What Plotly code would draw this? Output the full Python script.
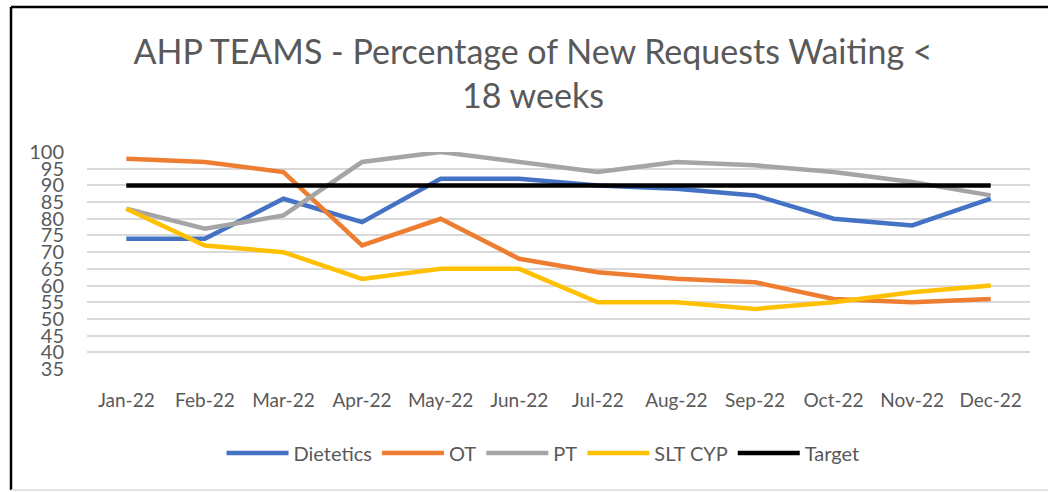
import plotly.graph_objects as go

months = ["Jan-22", "Feb-22", "Mar-22", "Apr-22", "May-22", "Jun-22",
          "Jul-22", "Aug-22", "Sep-22", "Oct-22", "Nov-22", "Dec-22"]
dietetics = [74, 74, 86, 79, 92, 92, 90, 89, 87, 80, 78, 86]
ot = [98, 97, 94, 72, 80, 68, 64, 62, 61, 56, 55, 56]
pt = [83, 77, 81, 97, 100, 97, 94, 97, 96, 94, 91, 87]
slt_cyp = [83, 72, 70, 62, 65, 65, 55, 55, 53, 55, 58, 60]
target = [90] * 12

series = [
    ("Dietetics", dietetics, "#4472C4"),
    ("OT", ot, "#ED7D31"),
    ("PT", pt, "#A5A5A5"),
    ("SLT CYP", slt_cyp, "#FFC000"),
    ("Target", target, "#000000"),
]

W, H = 1048, 492
L, R, T, B = 87, 18, 152, 123
pw, ph = W - L - R, H - T - B

fig = go.Figure()
for name, vals, col in series:
    fig.add_trace(go.Scatter(x=months, y=vals, name=name, mode="lines",
                             line=dict(color=col, width=4.5)))

font = "Lato, 'Open Sans', sans-serif"

def px_x(p):
    return (p - L) / pw

def px_y(p):
    return (H - B - p) / ph

fig.update_layout(
    width=W, height=H,
    margin=dict(l=L, r=R, t=T, b=B),
    paper_bgcolor="white", plot_bgcolor="white",
    title=dict(text="AHP TEAMS - Percentage of New Requests Waiting <<br>18 weeks",
               x=533 / W, xanchor="center", y=1 - 64 / H, yanchor="top",
               font=dict(family=font, size=34, color="#595959")),
    xaxis=dict(showgrid=False, showline=False, zeroline=False, ticks="",
               range=[-0.5, 11.5], automargin=False,
               tickfont=dict(family=font, size=19, color="#595959"),
               ticklabelstandoff=18),
    yaxis=dict(range=[35, 100], tickmode="linear", tick0=35, dtick=5,
               showgrid=True, gridcolor="#D9D9D9", gridwidth=1.5,
               zeroline=False, showline=False, ticks="", automargin=False,
               tickfont=dict(family=font, size=20, color="#595959"),
               ticklabelstandoff=22),
    legend=dict(orientation="h", x=px_x(543), xanchor="center",
                y=px_y(453), yanchor="middle",
                font=dict(family=font, size=20, color="#595959"),
                itemwidth=62, tracegroupgap=0),
    showlegend=True,
    shapes=[
        dict(type="line", xref="paper", yref="paper", x0=px_x(11), x1=px_x(11),
             y0=px_y(7), y1=px_y(490), line=dict(color="black", width=2.5)),
        dict(type="line", xref="paper", yref="paper", x0=px_x(11), x1=px_x(1050),
             y0=px_y(7), y1=px_y(7), line=dict(color="black", width=2.5)),
        dict(type="line", xref="paper", yref="paper", x0=px_x(11), x1=px_x(1050),
             y0=px_y(490), y1=px_y(490), line=dict(color="#D9D9D9", width=1.5)),
    ],
)

fig.write_html("out.html", config={"displayModeBar": False},
               post_script="document.body.style.margin='0';")
